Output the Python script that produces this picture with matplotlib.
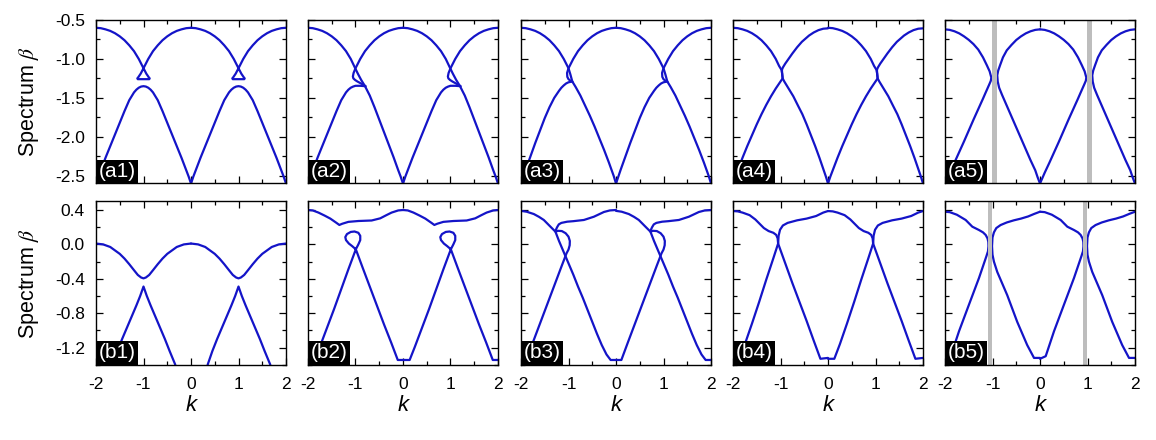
import matplotlib
matplotlib.use("Agg")
import matplotlib.pyplot as plt
from matplotlib.ticker import MultipleLocator, FormatStrFormatter

plt.rcParams['font.family'] = ['Liberation Sans', 'DejaVu Sans']
plt.rcParams['axes.unicode_minus'] = False
plt.rcParams['mathtext.fontset'] = 'stix'

# (a1)
a1_upper_k = [0.0, 0.1, 0.2, 0.3, 0.4, 0.5, 0.6, 0.7, 0.8, 0.9, 1.0, 1.06, 1.11, 1.13, 1.12, 1.0, 0.88, 0.87, 0.89, 0.94,
              1.0, 1.1, 1.2, 1.3, 1.4, 1.5, 1.6, 1.7, 1.8, 1.9, 2.0]
a1_upper_b = [-0.60, -0.605, -0.62, -0.64, -0.67, -0.71, -0.76, -0.825, -0.90, -1.00, -1.12, -1.19, -1.235, -1.25, -1.26,
              -1.26, -1.26, -1.25, -1.235, -1.19, -1.12, -1.00, -0.90, -0.825, -0.76, -0.71, -0.67, -0.64, -0.62, -0.605, -0.60]
a1_lower_k = [0.0, 0.05, 0.1, 0.2, 0.3, 0.4, 0.5, 0.6, 0.7, 0.8, 0.85, 0.9, 0.95, 1.0, 1.05, 1.1, 1.15, 1.2, 1.3, 1.4,
              1.5, 1.6, 1.7, 1.8, 1.9, 1.95, 2.0]
a1_lower_b = [-2.6, -2.51, -2.43, -2.27, -2.12, -1.97, -1.82, -1.67, -1.53, -1.43, -1.395, -1.37, -1.355, -1.35, -1.355,
              -1.37, -1.395, -1.43, -1.53, -1.67, -1.82, -1.97, -2.12, -2.27, -2.43, -2.51, -2.6]

# (a2)
a2_left_k = [0.0, 0.1, 0.2, 0.3, 0.4, 0.5, 0.6, 0.7, 0.8, 0.9, 0.99, 1.05, 1.12, 1.2, 1.3, 1.4, 1.5, 1.6, 1.7, 1.8,
             1.9, 1.95, 2.0]
a2_left_b = [-0.60, -0.605, -0.62, -0.64, -0.67, -0.71, -0.76, -0.825, -0.90, -1.00, -1.115, -1.19, -1.27, -1.35, -1.47,
             -1.62, -1.78, -1.94, -2.10, -2.26, -2.43, -2.51, -2.60]
a2_right_k = [2.0, 1.9, 1.8, 1.7, 1.6, 1.5, 1.4, 1.3, 1.2, 1.1, 1.0, 0.96, 0.945, 0.955, 0.99, 1.04, 1.1, 1.16, 1.21]
a2_right_b = [-0.60, -0.605, -0.62, -0.64, -0.67, -0.71, -0.76, -0.825, -0.90, -1.00, -1.12, -1.18, -1.225, -1.25,
              -1.27, -1.29, -1.31, -1.33, -1.35]
a2_lower_k = [0.0, 0.05, 0.1, 0.2, 0.3, 0.4, 0.5, 0.6, 0.7, 0.8, 0.85, 0.9, 0.95, 1.0, 1.1, 1.21]
a2_lower_b = [-2.6, -2.51, -2.43, -2.27, -2.12, -1.97, -1.82, -1.67, -1.53, -1.43, -1.395, -1.37, -1.355, -1.345,
              -1.345, -1.35]

# (a3)
a3_left_k = [0.0, 0.1, 0.2, 0.3, 0.4, 0.5, 0.6, 0.7, 0.8, 0.9, 1.0, 1.04, 1.08, 1.15, 1.25, 1.35, 1.45, 1.55, 1.65,
             1.75, 1.85, 1.95, 2.0]
a3_left_b = [-0.60, -0.605, -0.62, -0.64, -0.67, -0.71, -0.76, -0.825, -0.90, -1.00, -1.12, -1.20, -1.29, -1.36, -1.47,
             -1.60, -1.73, -1.87, -2.02, -2.17, -2.33, -2.50, -2.60]
a3_right_k = [2.0, 1.9, 1.8, 1.7, 1.6, 1.5, 1.4, 1.3, 1.2, 1.1, 1.0, 0.97, 0.975, 1.0, 1.04, 1.08]
a3_right_b = [-0.60, -0.605, -0.62, -0.64, -0.67, -0.71, -0.76, -0.825, -0.90, -1.00, -1.12, -1.18, -1.23, -1.26,
              -1.28, -1.29]
a3_lower_k = [0.0, 0.05, 0.1, 0.2, 0.3, 0.4, 0.5, 0.6, 0.7, 0.8, 0.85, 0.9, 0.95, 1.0, 1.08]
a3_lower_b = [-2.6, -2.51, -2.42, -2.25, -2.08, -1.92, -1.76, -1.62, -1.5, -1.41, -1.37, -1.34, -1.315, -1.3, -1.29]

# (a4)
a4_left_k = [0.0, 0.1, 0.2, 0.3, 0.4, 0.5, 0.6, 0.7, 0.8, 0.9, 0.97, 1.02, 1.035, 1.045, 1.08, 1.17, 1.27, 1.36, 1.46,
             1.55, 1.64, 1.73, 1.82, 1.91, 1.955, 2.0]
a4_left_b = [-0.60, -0.605, -0.62, -0.64, -0.67, -0.71, -0.76, -0.825, -0.90, -1.00, -1.09, -1.14, -1.19, -1.25, -1.29,
             -1.38, -1.48, -1.59, -1.71, -1.84, -1.98, -2.12, -2.27, -2.43, -2.51, -2.6]
a4_right_k = [2.0, 1.9, 1.8, 1.7, 1.6, 1.45, 1.35, 1.25, 1.1, 1.05, 1.03, 1.035, 1.045, 1.0, 0.9, 0.8, 0.7, 0.6, 0.5,
              0.4, 0.3, 0.2, 0.1, 0.05, 0.0]
a4_right_b = [-0.607, -0.612, -0.63, -0.66, -0.70, -0.78, -0.85, -0.93, -1.06, -1.11, -1.14, -1.19, -1.25, -1.29,
              -1.38, -1.48, -1.59, -1.71, -1.84, -1.98, -2.12, -2.27, -2.43, -2.51, -2.6]

# (a5)
a5_mid_k = [0.0, 0.1, 0.2, 0.3, 0.4, 0.5, 0.6, 0.7, 0.8, 0.88, 0.94, 0.975, 0.965, 0.93, 0.85, 0.8, 0.6, 0.4, 0.2,
            0.1, 0.05, 0.0]
a5_mid_b = [-0.62, -0.627, -0.645, -0.672, -0.71, -0.755, -0.81, -0.88, -0.98, -1.08, -1.16, -1.24, -1.28, -1.33,
            -1.44, -1.51, -1.78, -2.06, -2.33, -2.46, -2.53, -2.6]
a5_out_k = [2.0, 1.9, 1.8, 1.7, 1.6, 1.5, 1.4, 1.3, 1.22, 1.16, 1.12, 1.1, 1.11, 1.14, 1.2, 1.3, 1.4, 1.5, 1.6, 1.7,
            1.8, 1.9, 1.95, 2.0]
a5_out_b = [-0.62, -0.627, -0.645, -0.672, -0.71, -0.757, -0.82, -0.89, -0.98, -1.08, -1.15, -1.21, -1.29, -1.37,
            -1.46, -1.60, -1.74, -1.88, -2.02, -2.16, -2.30, -2.43, -2.52, -2.6]
a5_bands = [-0.96, 1.04]

# (b1)
b1_upper_k = [0.0, 0.15, 0.3, 0.5, 0.6, 0.7, 0.8, 0.88, 0.95, 1.0, 1.05, 1.12, 1.2, 1.3, 1.4, 1.5, 1.7, 1.85, 2.0]
b1_upper_b = [0.01, 0.0, -0.03, -0.11, -0.165, -0.23, -0.3, -0.355, -0.385, -0.395, -0.385, -0.355, -0.3, -0.23,
              -0.165, -0.11, -0.03, 0.0, 0.01]
b1_lower_k = [0.35, 0.45, 0.55, 0.65, 0.75, 0.85, 0.93, 1.0, 1.07, 1.15, 1.25, 1.35, 1.45, 1.55, 1.67]
b1_lower_b = [-1.4, -1.24, -1.1, -0.97, -0.84, -0.71, -0.6, -0.49, -0.6, -0.71, -0.84, -0.97, -1.1, -1.24, -1.4]

# (b2)
b2_top_k = [0.0, 0.1, 0.22, 0.35, 0.47, 0.6, 0.66, 0.72, 0.85, 1.06, 1.34, 1.52, 1.65, 1.76, 1.9, 2.0]
b2_top_b = [0.40, 0.395, 0.37, 0.335, 0.30, 0.25, 0.226, 0.24, 0.262, 0.272, 0.278, 0.303, 0.34, 0.37, 0.395, 0.40]
b2_loop_k = [0.0, 0.14, 0.25, 0.4, 0.55, 0.7, 0.85, 1.007, 1.06, 1.1, 1.1, 1.06, 0.98, 0.9, 0.82, 0.785, 0.8, 0.86,
             0.93, 1.007, 1.15, 1.3, 1.45, 1.6, 1.75, 1.89, 2.0]
b2_loop_b = [-1.344, -1.344, -1.19, -0.97, -0.75, -0.52, -0.29, -0.057, 0.0, 0.05, 0.1, 0.135, 0.15, 0.145, 0.12, 0.085,
             0.05, 0.01, -0.02, -0.057, -0.27, -0.49, -0.71, -0.93, -1.14, -1.344, -1.344]

# (b3)
b3_top_k = [0.0, 0.12, 0.27, 0.38, 0.48, 0.62, 0.725, 0.8, 0.9, 1.0, 1.1, 1.2, 1.3, 1.4, 1.5, 1.6, 1.7, 1.8, 1.887, 2.0]
b3_top_b = [0.39, 0.38, 0.353, 0.32, 0.284, 0.206, 0.148, 0.04, -0.09, -0.22, -0.35, -0.49, -0.62, -0.76, -0.9, -1.04,
            -1.17, -1.28, -1.344, -1.344]
b3_loop_k = [2.0, 1.87, 1.746, 1.535, 1.324, 1.1, 0.972, 0.85, 0.796, 0.76, 0.735, 0.725, 0.78, 0.86, 0.94, 1.0, 1.028,
             1.025, 1.0, 0.958, 0.85, 0.7, 0.55, 0.4, 0.25, 0.113, 0.0]
b3_loop_b = [0.40, 0.395, 0.377, 0.322, 0.284, 0.27, 0.264, 0.25, 0.233, 0.2, 0.17, 0.148, 0.158, 0.155, 0.13, 0.09,
             0.04, -0.01, -0.06, -0.104, -0.26, -0.48, -0.7, -0.92, -1.14, -1.344, -1.344]

# (b4)
b4_dome_k = [0.0, 0.1, 0.2, 0.35, 0.47, 0.56, 0.65, 0.75, 0.85, 0.91, 0.94, 0.95, 0.85, 0.7, 0.55, 0.4, 0.25, 0.133, 0.0]
b4_dome_b = [0.388, 0.384, 0.37, 0.34, 0.29, 0.24, 0.19, 0.155, 0.135, 0.11, 0.07, 0.01, -0.16, -0.41, -0.67, -0.92,
             -1.16, -1.33, -1.33]
b4_out_k = [2.0, 1.9, 1.75, 1.55, 1.35, 1.15, 1.05, 0.99, 0.96, 0.95, 1.1, 1.25, 1.4, 1.55, 1.7, 1.84, 2.0]
b4_out_b = [0.388, 0.37, 0.33, 0.30, 0.28, 0.25, 0.22, 0.17, 0.1, 0.01, -0.22, -0.45, -0.67, -0.89, -1.12, -1.33, -1.32]

# (b5)
b5_mid_k = [0.0, 0.1, 0.25, 0.435, 0.575, 0.716, 0.8, 0.856, 0.895, 0.912, 0.915, 0.905, 0.87, 0.716, 0.505, 0.295,
            0.12, 0.0]
b5_mid_b = [0.38, 0.375, 0.345, 0.284, 0.206, 0.167, 0.14, 0.11, 0.07, 0.03, -0.02, -0.08, -0.14, -0.39, -0.70, -1.01,
            -1.30, -1.33]
b5_out_k = [2.0, 1.88, 1.75, 1.6, 1.45, 1.3, 1.17, 1.08, 1.03, 1.0, 0.99, 1.0, 1.03, 1.1, 1.31, 1.52, 1.73, 1.874, 2.0]
b5_out_b = [0.38, 0.355, 0.325, 0.30, 0.28, 0.255, 0.225, 0.19, 0.14, 0.08, -0.02, -0.12, -0.2, -0.32, -0.59, -0.9,
            -1.17, -1.32, -1.32]
b5_bands = [-1.05, 0.95]

top_labels = ['(a1)', '(a2)', '(a3)', '(a4)', '(a5)']
bottom_labels = ['(b1)', '(b2)', '(b3)', '(b4)', '(b5)']

top_curves = [
    [(a1_upper_k, a1_upper_b), (a1_lower_k, a1_lower_b)],
    [(a2_left_k, a2_left_b), (a2_right_k, a2_right_b), (a2_lower_k, a2_lower_b)],
    [(a3_left_k, a3_left_b), (a3_right_k, a3_right_b), (a3_lower_k, a3_lower_b)],
    [(a4_left_k, a4_left_b), (a4_right_k, a4_right_b)],
    [(a5_mid_k, a5_mid_b), (a5_out_k, a5_out_b)],
]
bottom_curves = [
    [(b1_upper_k, b1_upper_b), (b1_lower_k, b1_lower_b)],
    [(b2_top_k, b2_top_b), (b2_loop_k, b2_loop_b)],
    [(b3_top_k, b3_top_b), (b3_loop_k, b3_loop_b)],
    [(b4_dome_k, b4_dome_b), (b4_out_k, b4_out_b)],
    [(b5_mid_k, b5_mid_b), (b5_out_k, b5_out_b)],
]
top_bands = [[], [], [], [], a5_bands]
bottom_bands = [[], [], [], [], b5_bands]

BLUE = '#1414c8'
GRAY = '#bdbdbd'
W, H = 1156, 440
lefts = [96, 308, 521, 733, 945]

fig = plt.figure(figsize=(W / 100, H / 100), dpi=100)

rows = [
    # top px, bottom px, ylim, major, minor, labels, curves, bands, band half width
    (20, 183.5, (-2.6, -0.5), 0.5, 0.25, top_labels, top_curves, top_bands, 0.056),
    (201.4, 364.8, (-1.4, 0.5), 0.4, 0.2, bottom_labels, bottom_curves, bottom_bands, 0.046),
]

for r, (ytop, ybot, ylim, major, minor, labels, curves, bands, hw) in enumerate(rows):
    for c in range(5):
        ax = fig.add_axes([lefts[c] / W, 1 - ybot / H, 190 / W, (ybot - ytop) / H])
        for ks, bs in curves[c]:
            for shift in (-2, 0):
                ax.plot([k + shift for k in ks], bs, color=BLUE, lw=1.6,
                        solid_joinstyle='round', solid_capstyle='round')
        for b in bands[c]:
            ax.axvspan(b - hw, b + hw, color=GRAY, lw=0, zorder=2.4)
        ax.set_xlim(-2, 2)
        ax.set_ylim(*ylim)
        ax.xaxis.set_major_locator(MultipleLocator(1))
        ax.xaxis.set_minor_locator(MultipleLocator(0.5))
        ax.yaxis.set_major_locator(MultipleLocator(major))
        ax.yaxis.set_minor_locator(MultipleLocator(minor))
        ax.xaxis.set_major_formatter(FormatStrFormatter('%d'))
        ax.yaxis.set_major_formatter(FormatStrFormatter('%.1f'))
        ax.tick_params(which='both', direction='in', top=True, right=True,
                       width=0.9, labelsize=12.5)
        ax.tick_params(which='major', length=5)
        ax.tick_params(which='minor', length=3)
        ax.tick_params(axis='x', pad=9)
        ax.tick_params(axis='y', pad=8)
        for sp in ax.spines.values():
            sp.set_linewidth(1.0)
        if r == 0:
            ax.tick_params(labelbottom=False)
        else:
            ax.set_xlabel('k', fontsize=16, fontstyle='italic')
            ax.xaxis.set_label_coords(0.5, -0.185)
        if c == 0:
            ax.set_ylabel(r'Spectrum $\beta$', fontsize=15.5)
            ax.yaxis.set_label_coords(-0.29, 0.5)
        else:
            ax.tick_params(labelleft=False)
        ax.annotate(labels[c], xy=(0, 0), xycoords='axes fraction',
                    xytext=(1.7, 1.7), textcoords='offset points',
                    ha='left', va='bottom', color='white', fontsize=15,
                    bbox=dict(boxstyle='square,pad=0.12', fc='black', ec='none'),
                    zorder=5)

fig.savefig('out.png', dpi=100)
